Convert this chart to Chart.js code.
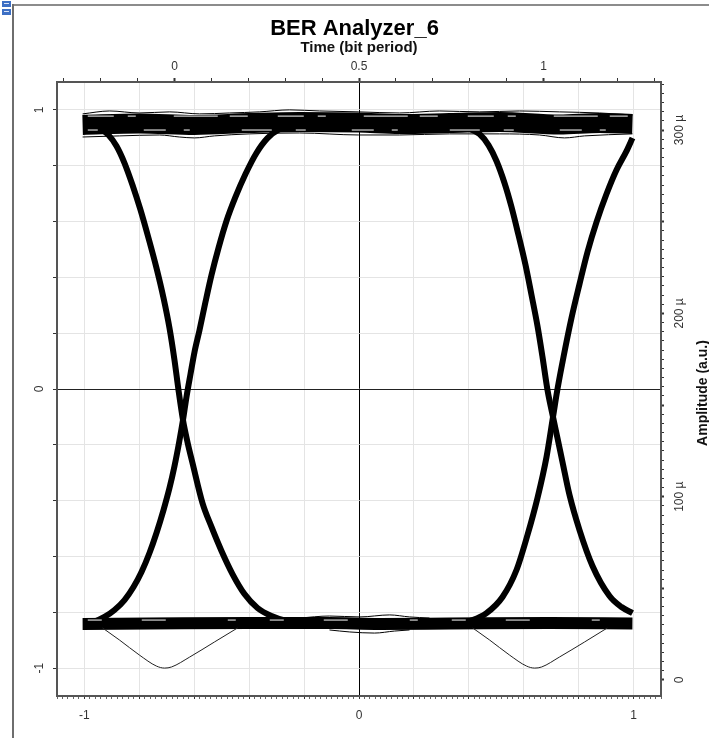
<!DOCTYPE html>
<html>
<head>
<meta charset="utf-8">
<title>BER Analyzer_6</title>
<script src="https://cdn.jsdelivr.net/npm/chart.js@4"></script>
<style>
  html, body { margin: 0; padding: 0; background: #fff; }
  canvas { display: block; }
</style>
</head>
<body>
<canvas id="eye" width="709" height="738"></canvas>
<script>
// eye diagram traces, time in bit periods, amplitude in µ a.u.
const topBandT = [-0.249, -0.095, 0.054, 0.203, 0.339, 0.499, 0.610, 0.745, 0.881, 1.043, 1.152, 1.241];
const topBandA = [302.8, 303.6, 302.8, 303.8, 304.4, 304.1, 303.3, 303.8, 304.4, 303.0, 303.8, 303.3];
const topUpperT = [-0.249, -0.176, -0.095, -0.013, 0.068, 0.149, 0.230, 0.312, 0.393, 0.499, 0.610, 0.718, 0.827, 0.935, 1.043, 1.152, 1.241];
const topUpperA = [308.8, 310.4, 309.3, 309.9, 308.8, 309.3, 309.9, 311.0, 310.4, 309.9, 309.3, 310.4, 309.9, 310.4, 309.9, 309.3, 308.2];
const topLowerT = [-0.249, -0.149, -0.041, 0.013, 0.054, 0.108, 0.203, 0.339, 0.499, 0.610, 0.745, 0.881, 0.989, 1.057, 1.111, 1.241];
const topLowerA = [296.2, 296.8, 297.3, 296.2, 295.7, 296.8, 297.9, 298.4, 297.3, 297.3, 297.9, 297.9, 297.3, 295.7, 296.8, 297.9];

const botBandT = [-0.249, -0.068, 0.203, 0.420, 0.556, 0.745, 1.016, 1.241];
const botBandA = [30.6, 30.8, 31.1, 31.1, 30.6, 30.8, 31.1, 30.8];
const botUpperT = [0.339, 0.420, 0.502, 0.583, 0.637, 0.691];
const botUpperA = [33.8, 34.9, 34.4, 35.5, 34.4, 33.8];
const botLowerT = [0.420, 0.475, 0.542, 0.596, 0.637];
const botLowerA = [27.3, 26.2, 25.6, 26.7, 27.3];

// light streaks seen inside the dense bands
const streakT = [-0.235, 1.230];
const streakTopHi = [307.6, 307.6];
const streakTopLo = [300.0, 300.0];
const streakBot = [32.7, 32.7];

const fall1T = [-0.2222, -0.2005, -0.1789, -0.1572, -0.1355, -0.1138, -0.0921, -0.0705, -0.0488, -0.0298, -0.0136, 0.0000,
  0.0108, 0.0230, 0.0352, 0.0488, 0.0759, 0.1003, 0.1274, 0.1572, 0.1897, 0.2249, 0.2629, 0.3035, 0.3523];
const fall1A = [301.6, 300.5, 297.3, 291.3, 282.0, 270.0, 256.4, 241.1, 224.7, 208.4, 192.0, 174.5,
  158.2, 141.8, 129.8, 118.4, 96.5, 83.5, 70.4, 57.8, 46.9, 39.3, 34.9, 32.2, 30.8];
const rise1T = [-0.2439, -0.2168, -0.1897, -0.1626, -0.1355, -0.1111, -0.0894, -0.0678, -0.0488, -0.0298, -0.0136, 0.0000,
  0.0122, 0.0230, 0.0325, 0.0434, 0.0542, 0.0678, 0.0840, 0.1003, 0.1192, 0.1409, 0.1653, 0.1924, 0.2222, 0.2520, 0.2846, 0.3198, 0.3523];
const rise1A = [30.5, 31.9, 34.4, 38.2, 43.6, 50.7, 58.9, 69.3, 80.2, 92.7, 104.7, 116.7,
  129.3, 141.8, 154.4, 166.9, 178.9, 190.9, 206.2, 220.9, 235.6, 250.4, 263.5, 276.0, 287.5, 295.6, 300.5, 302.7, 303.3];
const fall2T = [0.7805, 0.8022, 0.8266, 0.8509, 0.8726, 0.8943, 0.9133, 0.9322, 0.9512, 0.9675, 0.9837, 0.9973,
  1.0108, 1.0257, 1.0379, 1.0515, 1.0705, 1.0976, 1.1328, 1.1789, 1.2114, 1.2412];
const fall2A = [301.6, 300.5, 297.8, 291.8, 283.1, 271.1, 258.0, 242.7, 226.4, 210.0, 193.1, 176.2,
  158.2, 143.5, 132.0, 118.9, 100.9, 81.8, 62.2, 45.8, 39.8, 36.5];
const rise2T = [0.7588, 0.8076, 0.8455, 0.8889, 0.9268, 0.9566, 0.9837, 1.0081, 1.0257, 1.0379, 1.0542, 1.0759,
  1.0976, 1.1192, 1.1436, 1.1707, 1.1978, 1.2249, 1.2412];
const rise2A = [30.5, 32.7, 36.5, 45.3, 60.0, 79.1, 99.3, 121.6, 143.5, 158.7, 176.2, 197.5,
  216.0, 233.5, 249.8, 265.1, 278.2, 288.5, 295.6];

// the single low trace that dips under the "0" level
const dip1T = [-0.195, -0.149, -0.095, -0.049, -0.027, -0.008, 0.041, 0.108, 0.171];
const dip2T = [0.808, 0.854, 0.908, 0.954, 0.976, 0.995, 1.043, 1.111, 1.173];
const dipA = [28.4, 21.8, 13.6, 7.6, 6.5, 7.1, 12.5, 20.7, 28.4];

// axes
const normTicks = [-1, -0.8, -0.6, -0.4, -0.2, 0, 0.2, 0.4, 0.6, 0.8, 1];
const normLabels = [-1, 0, 1];
const timeTicks = [-0.3, -0.2, -0.1, 0, 0.1, 0.2, 0.3, 0.4, 0.5, 0.6, 0.7, 0.8, 0.9, 1, 1.1, 1.2, 1.3];
const timeLabels = [0, 0.5, 1];
const ampLabels = [0, 100, 200, 300];

const FONT = '"Liberation Sans", Arial, sans-serif';

// evenly spaced minor tick marks
function steps(from, to, step) {
  const out = [];
  const n = Math.round((to - from) / step);
  for (let i = 0; i <= n; i++) out.push(Math.round((from + i * step) * 1000) / 1000);
  return out;
}
const bottomMinor = steps(-1.1, 1.1, 0.02);
const ampMinor = steps(0, 325, 5);

function isStep(v, step) {
  return Math.abs(v / step - Math.round(v / step)) < 1e-6;
}

function pts(ts, as) {
  return ts.map((t, i) => ({ x: t, y: as[i] }));
}

function trace(data, width, color, dash) {
  return {
    data,
    borderColor: color || '#000',
    borderWidth: width,
    borderDash: dash || [],
    pointRadius: 0,
    tension: 0.4,
    cubicInterpolationMode: 'monotone',
    borderCapStyle: 'butt',
    fill: false,
    xAxisID: 't',
    yAxisID: 'a'
  };
}

function setTicks(list) {
  return axis => { axis.ticks = list.map(v => ({ value: v })); };
}

// frame, toolbar icon and the right axis title
const decor = {
  id: 'decor',
  beforeDraw(chart) {
    const ctx = chart.ctx;
    ctx.save();
    ctx.fillStyle = '#fff';
    ctx.fillRect(0, 0, chart.width, chart.height);
    ctx.fillStyle = '#8c8c8c';
    ctx.fillRect(12, 4, 697, 2);
    ctx.fillStyle = '#6e6e6e';
    ctx.fillRect(12, 4, 2, 734);
    ctx.fillStyle = '#3d6fc4';
    ctx.fillRect(2, 1, 9, 6);
    ctx.fillRect(2, 9, 9, 6);
    ctx.fillStyle = '#d8e4f8';
    ctx.fillRect(4, 3, 5, 1);
    ctx.fillRect(4, 11, 5, 1);
    ctx.restore();
  },
  afterDraw(chart) {
    const ctx = chart.ctx;
    ctx.save();
    ctx.translate(703, 393);
    ctx.rotate(-Math.PI / 2);
    ctx.font = 'bold 14px ' + FONT;
    ctx.fillStyle = '#111';
    ctx.textAlign = 'center';
    ctx.textBaseline = 'middle';
    ctx.fillText('Amplitude (a.u.)', 0, 0);
    ctx.restore();
  }
};

const tickFont = { family: FONT, size: 12 };

new Chart(document.getElementById('eye'), {
  type: 'line',
  data: {
    datasets: [
      trace(pts(streakT, streakTopHi), 1, '#fff', [26, 14, 8, 38, 44, 12, 18, 30]),
      trace(pts(streakT, streakTopLo), 1, '#fff', [10, 46, 22, 18, 6, 52, 30, 24]),
      trace(pts(streakT, streakBot), 1, '#fff', [14, 40, 24, 62, 8, 34]),
      trace(pts(dip1T, dipA), 1, '#222'),
      trace(pts(dip2T, dipA), 1, '#222'),
      trace(pts(topUpperT, topUpperA), 1),
      trace(pts(topLowerT, topLowerA), 1),
      trace(pts(botUpperT, botUpperA), 1),
      trace(pts(botLowerT, botLowerA), 1),
      trace(pts(fall1T, fall1A), 6),
      trace(pts(rise1T, rise1A), 6),
      trace(pts(fall2T, fall2A), 6),
      trace(pts(rise2T, rise2A), 6),
      trace(pts(topBandT, topBandA), 20),
      trace(pts(botBandT, botBandA), 12)
    ]
  },
  options: {
    responsive: false,
    animation: false,
    events: [],
    layout: { padding: 0 },
    plugins: {
      legend: { display: false },
      tooltip: { enabled: false },
      title: {
        display: true,
        text: 'BER Analyzer_6',
        color: '#000',
        font: { family: FONT, size: 22, weight: 'bold', lineHeight: 1 },
        padding: { top: 18, bottom: 0 }
      }
    },
    scales: {
      x: {
        type: 'linear',
        position: 'bottom',
        min: -1.1,
        max: 1.1,
        afterBuildTicks: setTicks(bottomMinor),
        afterFit: s => { s.height = 42; },
        ticks: {
          autoSkip: false,
          maxRotation: 0,
          padding: 9,
          color: '#333',
          font: tickFont,
          callback: v => normLabels.includes(v) ? String(v) : ''
        },
        grid: {
          color: c => {
            const v = c.tick ? c.tick.value : 1;
            if (v === 0) return '#000';
            return isStep(v, 0.2) ? '#e4e4e4' : 'rgba(0,0,0,0)';
          },
          tickColor: c => (c.tick && isStep(c.tick.value, 0.2)) ? '#333' : '#666',
          tickLength: 3
        },
        border: { color: '#555', width: 2 }
      },
      y: {
        type: 'linear',
        position: 'left',
        min: -1.1,
        max: 1.1,
        afterBuildTicks: setTicks(normTicks),
        afterFit: s => { s.width = 57; },
        ticks: {
          autoSkip: false,
          minRotation: 90,
          maxRotation: 90,
          crossAlign: 'center',
          padding: 8,
          color: '#333',
          font: tickFont,
          callback: v => normLabels.includes(v) ? String(v) : ''
        },
        grid: {
          color: c => (c.tick && c.tick.value === 0) ? '#222' : '#e4e4e4',
          tickColor: '#333',
          tickLength: 4
        },
        border: { color: '#555', width: 2 }
      },
      t: {
        type: 'linear',
        position: 'top',
        min: -0.3184,
        max: 1.3184,
        afterBuildTicks: setTicks(timeTicks),
        afterFit: s => { s.height = 42; },
        title: {
          display: true,
          text: 'Time (bit period)',
          color: '#111',
          font: { family: FONT, size: 15, weight: 'bold', lineHeight: 1 },
          padding: 0
        },
        ticks: {
          autoSkip: false,
          maxRotation: 0,
          padding: 4,
          color: '#333',
          font: tickFont,
          callback: v => timeLabels.includes(v) ? String(v) : ''
        },
        grid: {
          drawOnChartArea: false,
          tickColor: '#333',
          tickWidth: c => (c.tick && timeLabels.includes(c.tick.value)) ? 2 : 1,
          tickLength: 4
        },
        border: { color: '#555', width: 2 }
      },
      a: {
        type: 'linear',
        position: 'right',
        min: -8.73,
        max: 326.2,
        afterBuildTicks: setTicks(ampMinor),
        afterFit: s => { s.width = 48; },
        ticks: {
          autoSkip: false,
          minRotation: 90,
          maxRotation: 90,
          crossAlign: 'center',
          padding: 1,
          color: '#333',
          font: tickFont,
          callback: v => ampLabels.includes(v) ? (v === 0 ? '0' : v + ' µ') : ''
        },
        grid: {
          drawOnChartArea: false,
          tickColor: '#333',
          tickWidth: c => (c.tick && isStep(c.tick.value, 50)) ? 2 : 1,
          tickLength: 3
        },
        border: { color: '#555', width: 2 }
      }
    }
  },
  plugins: [decor]
});
</script>
</body>
</html>
